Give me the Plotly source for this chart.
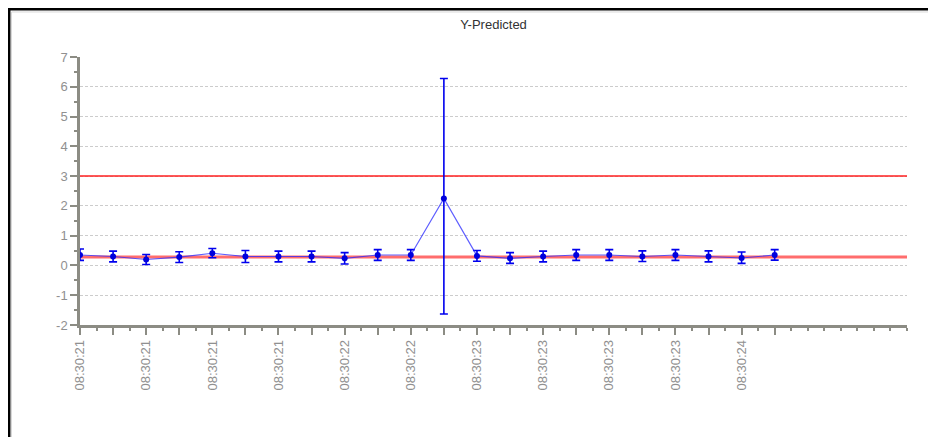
import plotly.graph_objects as go

# Y-Predicted chart, one point per sample with error bars
sample_idx = list(range(22))
tick_labels = ['08:30:21', '', '08:30:21', '', '08:30:21', '', '08:30:21', '',
               '08:30:22', '', '08:30:22', '', '08:30:23', '', '08:30:23', '',
               '08:30:23', '', '08:30:23', '', '08:30:24', '']
y_ticks = [-2, -1, 0, 1, 2, 3, 4, 5, 6, 7]
y_tick_labels = ['-2', '-1', '0', '1', '2', '3', '4', '5', '6', '7']
y_pred = [0.35, 0.30, 0.20, 0.28, 0.41, 0.30, 0.30, 0.30, 0.24, 0.35, 0.35,
          2.25, 0.32, 0.24, 0.30, 0.35, 0.35, 0.30, 0.35, 0.30, 0.25, 0.35]
err_plus = [0.20, 0.18, 0.17, 0.18, 0.16, 0.20, 0.18, 0.18, 0.19, 0.18, 0.18,
            4.03, 0.18, 0.19, 0.18, 0.18, 0.18, 0.19, 0.18, 0.19, 0.20, 0.18]
err_minus = [0.18, 0.18, 0.17, 0.18, 0.15, 0.20, 0.18, 0.18, 0.19, 0.18, 0.18,
             3.88, 0.18, 0.17, 0.18, 0.18, 0.18, 0.17, 0.18, 0.18, 0.18, 0.17]
upper_limit = 3.0
center_line = 0.28
x_end = 25

fig = go.Figure()

# control lines
fig.add_trace(go.Scatter(x=[0, x_end], y=[center_line, center_line], mode='lines',
                         line=dict(color='rgba(255,60,60,0.75)', width=3),
                         hoverinfo='skip', showlegend=False))
fig.add_trace(go.Scatter(x=[0, x_end], y=[upper_limit, upper_limit], mode='lines',
                         line=dict(color='#ff2020', width=1.5),
                         hoverinfo='skip', showlegend=False))

fig.add_trace(go.Scatter(
    x=sample_idx, y=y_pred, mode='lines+markers',
    line=dict(color='rgba(40,40,255,0.75)', width=1.2),
    marker=dict(color='#0000dd', size=6),
    error_y=dict(type='data', symmetric=False, array=err_plus, arrayminus=err_minus,
                 color='#0000ee', thickness=1.6, width=4),
    showlegend=False, name='Y-Predicted'))

# window frame (top and left edges)
fig.add_shape(type='rect', xref='paper', yref='paper', x0=-0.0859, x1=1.5,
              y0=-1, y1=1.179, line=dict(color='black', width=3))
fig.add_shape(type='rect', xref='paper', yref='paper', x0=-0.0828, x1=1.5,
              y0=-1, y1=1.168, line=dict(color='#d8d8d8', width=1))

grey = '#8c8c84'
fig.update_layout(
    width=928, height=429,
    margin=dict(l=72, r=29, t=49, b=112),
    paper_bgcolor='white', plot_bgcolor='white',
    font=dict(family='Liberation Sans, Arial', color='#888888', size=13),
    title=dict(text='Y-Predicted', x=0.5, xref='paper', y=0.962, yanchor='middle',
               font=dict(size=13, color='#333333')),
    xaxis=dict(range=[0, x_end], tickmode='array', tickvals=sample_idx, ticktext=tick_labels,
               tickangle=-90, showgrid=False, zeroline=False,
               showline=True, linecolor=grey, linewidth=2.5,
               ticks='outside', ticklen=7, tickwidth=1.5, tickcolor=grey,
               tickfont=dict(size=13, color='#909090'),
               minor=dict(dtick=0.5, tick0=0, ticks='outside', ticklen=3,
                          tickcolor=grey, tickwidth=1.5, showgrid=False)),
    yaxis=dict(range=[-2, 7], tickmode='array', tickvals=y_ticks, ticktext=y_tick_labels,
               showgrid=True, gridcolor='#cccccc',
               griddash='3px,2px', gridwidth=1, zeroline=False,
               showline=True, linecolor=grey, linewidth=2.5,
               ticks='outside', ticklen=7, tickwidth=1.5, tickcolor=grey,
               tickfont=dict(size=13, color='#909090'),
               minor=dict(dtick=0.5, tick0=0, ticks='outside', ticklen=3,
                          tickcolor=grey, tickwidth=1.5, showgrid=False)),
)

fig.write_html("out.html")
